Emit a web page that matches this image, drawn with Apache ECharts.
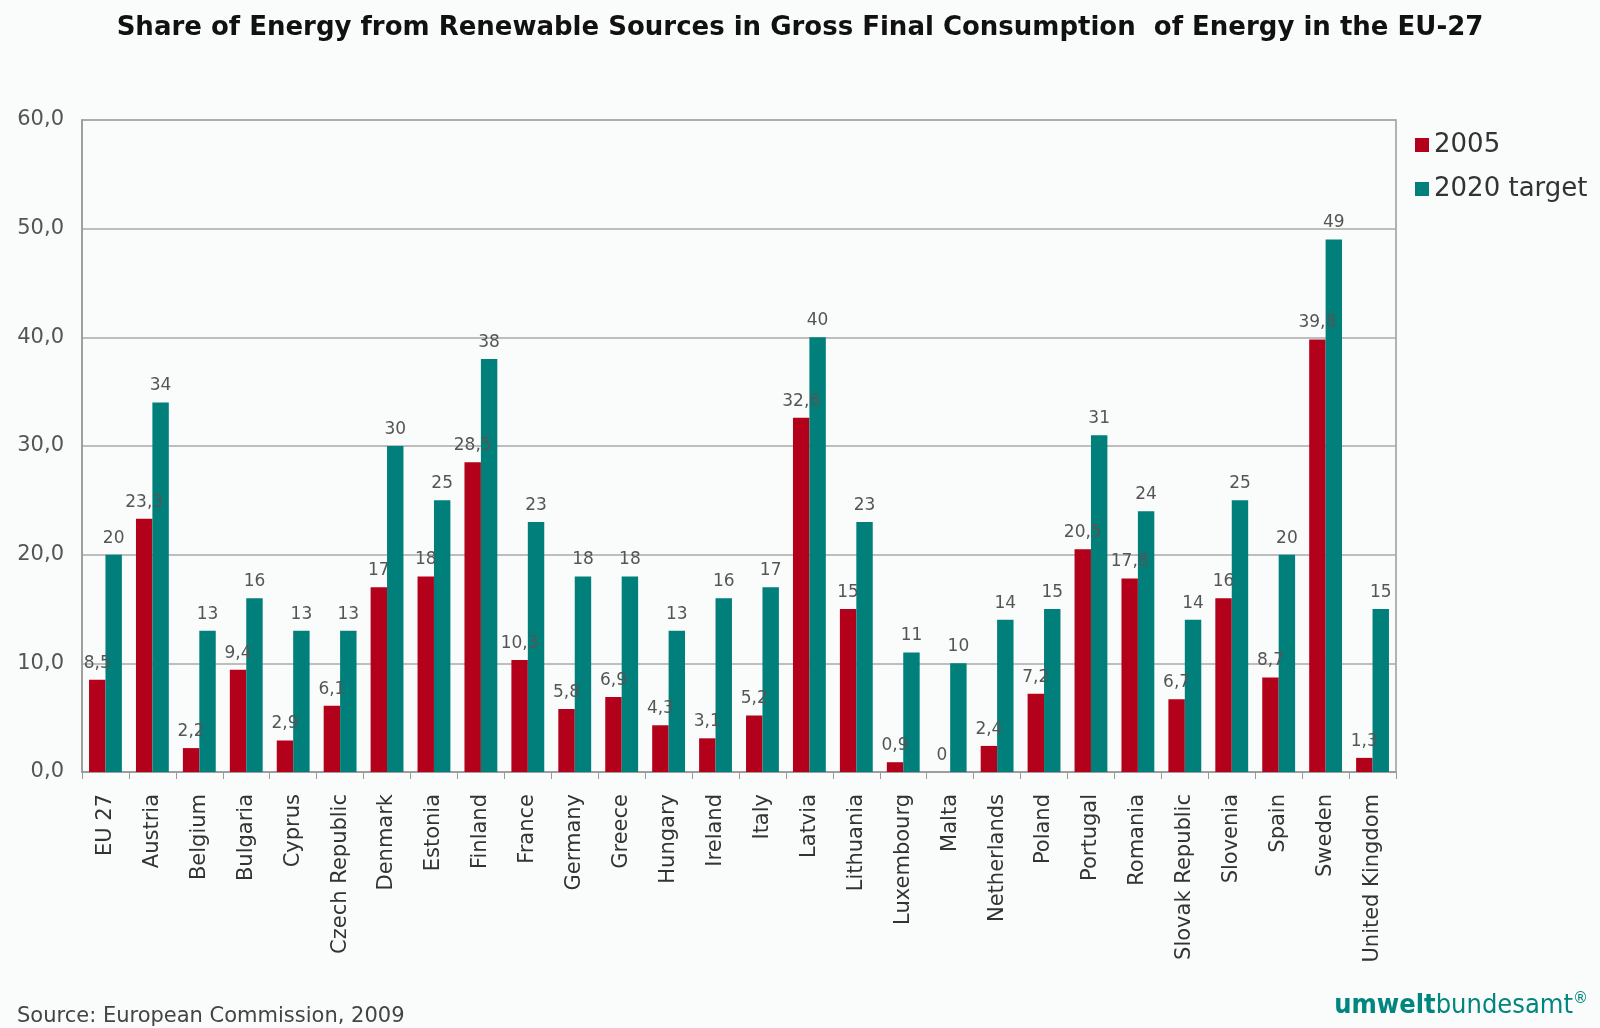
<!DOCTYPE html>
<html>
<head>
<meta charset="utf-8">
<script src="https://cdn.jsdelivr.net/npm/echarts@6/dist/echarts.min.js"></script>
<style>
  html, body { margin: 0; padding: 0; background: #fafcfb; }
  #chart { width: 1600px; height: 1028px; }
</style>
</head>
<body>
<div id="chart"></div>
<script>
// Member states (plus the EU-27 average)
var countries = ['EU 27', 'Austria', 'Belgium', 'Bulgaria', 'Cyprus', 'Czech Republic', 'Denmark',
  'Estonia', 'Finland', 'France', 'Germany', 'Greece', 'Hungary', 'Ireland', 'Italy', 'Latvia',
  'Lithuania', 'Luxembourg', 'Malta', 'Netherlands', 'Poland', 'Portugal', 'Romania',
  'Slovak Republic', 'Slovenia', 'Spain', 'Sweden', 'United Kingdom'];

// Share of renewables in 2005 (%)
var share2005 = [8.5, 23.3, 2.2, 9.4, 2.9, 6.1, 17, 18, 28.5, 10.3, 5.8, 6.9, 4.3, 3.1, 5.2, 32.6,
  15, 0.9, 0, 2.4, 7.2, 20.5, 17.8, 6.7, 16, 8.7, 39.8, 1.3];

// Binding 2020 targets (%)
var target2020 = [20, 34, 13, 16, 13, 13, 30, 25, 38, 23, 18, 18, 13, 16, 17, 40, 23, 11, 10, 14,
  15, 31, 24, 14, 25, 20, 49, 15];

var seriesNames = ['2005', '2020 target'];

function fmtComma(v) { return String(v).replace('.', ','); }

var chart = echarts.init(document.getElementById('chart'));
var labelStyle = {
  show: true, position: 'top', distance: 8,
  color: '#555', fontFamily: 'DejaVu Sans', fontSize: 17,
  formatter: function (p) { return fmtComma(p.value); }
};

chart.setOption({
  backgroundColor: '#fafcfb',
  animation: false,
  title: {
    text: 'Share of Energy from Renewable Sources in Gross Final Consumption  of Energy in the EU-27',
    left: 'center', top: 10,
    textStyle: { fontFamily: 'DejaVu Sans', fontWeight: 'bold', fontSize: 26, color: '#111' }
  },
  legend: {
    orient: 'vertical', left: 1410, top: 127, itemGap: 18,
    itemWidth: 14, itemHeight: 14, icon: 'rect',
    textStyle: { fontFamily: 'DejaVu Sans', fontSize: 26, color: '#333' },
    data: seriesNames
  },
  grid: {
    left: 82, right: 204, top: 120, bottom: 256,
    show: true, borderColor: '#999', borderWidth: 1.5, backgroundColor: 'transparent'
  },
  xAxis: {
    type: 'category', data: countries,
    axisLine: { lineStyle: { color: '#999', width: 1.5 } },
    axisTick: { show: true, length: 7, lineStyle: { color: '#999' } },
    axisLabel: {
      rotate: 90, interval: 0, margin: 22,
      fontFamily: 'DejaVu Sans', fontSize: 21, color: '#333'
    }
  },
  yAxis: {
    type: 'value', min: 0, max: 60, interval: 10,
    axisLine: { show: true, lineStyle: { color: '#999', width: 1.5 } },
    axisTick: { show: false },
    splitLine: { lineStyle: { color: '#aaa', width: 1.5 } },
    axisLabel: {
      margin: 18, fontFamily: 'DejaVu Sans', fontSize: 21, color: '#555',
      formatter: function (v) { return v.toFixed(1).replace('.', ','); }
    }
  },
  series: [
    {
      name: seriesNames[0], type: 'bar', data: share2005,
      barGap: '0%', barCategoryGap: '30%',
      itemStyle: { color: '#b3001b' },
      label: labelStyle
    },
    {
      name: seriesNames[1], type: 'bar', data: target2020,
      itemStyle: { color: '#007f7b' },
      label: labelStyle
    }
  ],
  graphic: [
    {
      type: 'text', left: 17, top: 1006,
      style: { text: 'Source: European Commission, 2009', fontFamily: 'DejaVu Sans', fontSize: 21, fill: '#444' }
    },
    {
      type: 'text', right: 12, top: 992,
      style: {
        text: '{b|umwelt}{r|bundesamt}{s|®}',
        rich: {
          b: { fontFamily: 'DejaVu Sans Condensed', fontWeight: 'bold', fontSize: 27, fill: '#00857f' },
          r: { fontFamily: 'DejaVu Sans Condensed', fontSize: 27, fill: '#00857f' },
          s: { fontFamily: 'DejaVu Sans', fontSize: 15, fill: '#00857f', verticalAlign: 'top' }
        }
      }
    }
  ]
});
</script>
</body>
</html>
